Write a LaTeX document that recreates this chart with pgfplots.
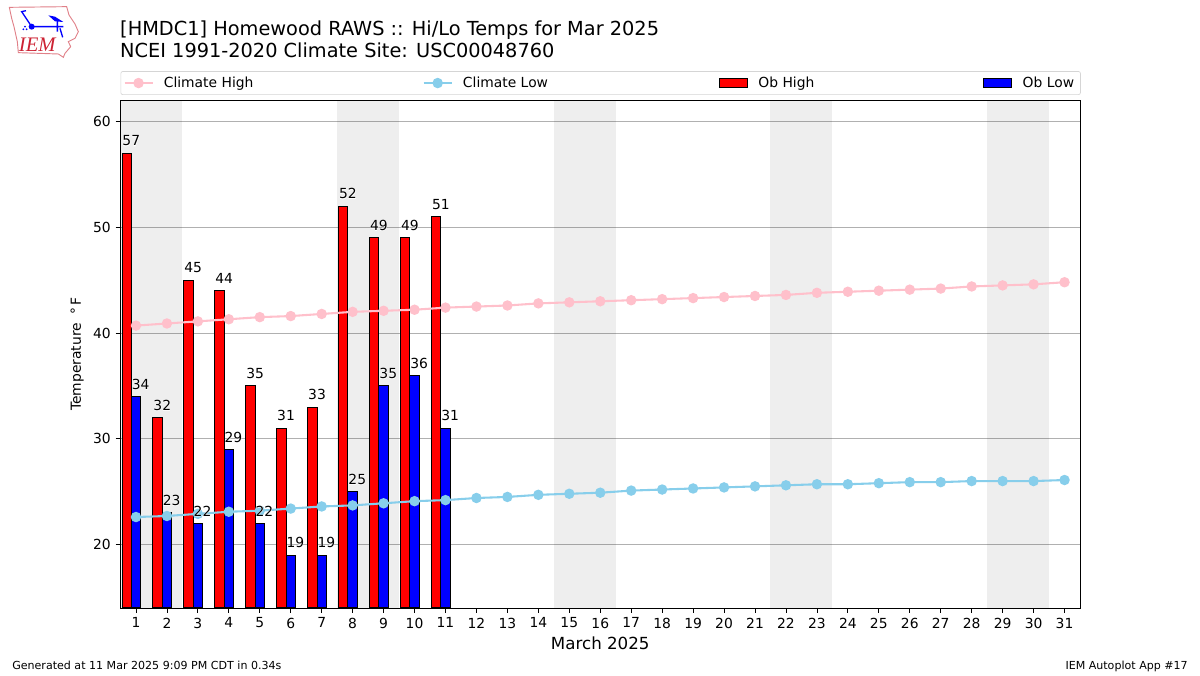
\documentclass[border=0pt]{standalone}
\usepackage{pgfplots}
\usepackage{fontspec}
\pgfplotsset{compat=1.18}
\setmainfont{DejaVu Sans}
\newfontface\halofont[FakeBold=4]{DejaVu Sans}
\newfontfamily\logofont{Liberation Serif}
\definecolor{cpink}{HTML}{FFC0CB}
\definecolor{cblue}{HTML}{87CEEB}
\definecolor{gridc}{HTML}{B0B0B0}
\definecolor{legc}{HTML}{D5D5D5}
\definecolor{logored}{HTML}{CC2233}
\definecolor{logopink}{HTML}{E08088}
\pgfplotstableread{
d  high low
1  57 34
2  32 23
3  45 22
4  44 29
5  35 22
6  31 19
7  33 19
8  52 25
9  49 35
10 49 36
11 51 31
}\obs
\pgfplotstableread{
d  chigh clow
1  40.7 22.6
2  40.9 22.7
3  41.1 22.9
4  41.3 23.1
5  41.5 23.2
6  41.6 23.4
7  41.8 23.6
8  42.0 23.7
9  42.1 23.9
10 42.2 24.1
11 42.4 24.2
12 42.5 24.4
13 42.6 24.5
14 42.8 24.7
15 42.9 24.8
16 43.0 24.9
17 43.1 25.1
18 43.2 25.2
19 43.3 25.3
20 43.4 25.4
21 43.5 25.5
22 43.6 25.6
23 43.8 25.7
24 43.9 25.7
25 44.0 25.8
26 44.1 25.9
27 44.2 25.9
28 44.4 26.0
29 44.5 26.0
30 44.6 26.0
31 44.8 26.1
}\clim
\newcommand{\lab}{\fontsize{10.4}{12}\selectfont}
\newcommand{\legtext}[2]{\makebox[#1][l]{\hspace*{5.7pt}#2}}
\pgfplotsset{
  vallabel/.style={draw=none,mark=none,forget plot,point meta=y,
    nodes near coords={\rlap{\color{white}\halofont\pgfmathprintnumber[assume math mode=true]{\pgfplotspointmeta}}\pgfmathprintnumber[assume math mode=true]{\pgfplotspointmeta}},
    nodes near coords align={anchor=base},
    every node near coord/.append style={font=\lab,text=black,inner sep=0pt,anchor=base,xshift=#1,yshift=5.4pt}},
  band/.style={fill=black,fill opacity=0.067,draw=none,forget plot},
  lineimg/.style={legend image code/.code={
    \draw[##1,line width=1.56pt] (0,0)--(21pt,0);
    \fill[##1] (10.5pt,0) circle (3.1pt);}},
  barimg/.style={legend image code/.code={
    \draw[##1,sharp corners,line width=0.75pt] (0,-3.4pt) rectangle (21pt,3.4pt);}},
}
\begin{document}
\begin{tikzpicture}
\path[use as bounding box] (0,0) rectangle (900pt,506.25pt);
% logo
\begin{scope}[shift={(0,506.25pt)},x=0.25pt,y=-0.25pt]
\draw[logopink,line width=0.7pt] (28,22)--(200,20)--(207,45)--(225,72)--(235,95)--(225,115)--(205,125)--(212,140)--(195,160)--(190,172)--(175,162)--(55,158)--(52,125)--(42,80)--(35,55)--cycle;
\draw[blue,line width=1pt] (95,80)--(190,80) (95,80)--(65,35)--(78,32) (172,60)--(172,95) (180,85)--(188,112);
\fill[blue] (95,80) circle (9) (145,46)--(165,50)--(190,66)--(165,64)--cycle;
\fill[blue] (75,80) circle (3) (70,88) circle (3) (80,88) circle (3);
\node[logored,inner sep=0pt,anchor=base] at (112,154) {\logofont\itshape\fontsize{15.5}{15.5}\selectfont IEM};
\end{scope}
\begin{axis}[
  at={(90.375pt,50.25pt)},anchor=south west,
  scale only axis,width=719.625pt,height=381pt,
  xmin=0.5,xmax=31.5,ymin=14,ymax=62.03,
  xtick={1,...,31},ytick={20,30,40,50,60},
  xtick pos=bottom,ytick pos=left,tick align=outside,
  major tick length=3.65pt,
  every tick/.style={black,line width=0.6pt},
  axis line style={line width=0.6pt},
  ymajorgrids,
  major grid style={gridc,line width=0.75pt},
  /pgf/number format/assume math mode=true,
  tick label style={font=\lab},
  xticklabel style={yshift=-0.2pt},
  yticklabel style={xshift=-0.2pt},
  xlabel={March 2025},
  xlabel style={font=\fontsize{12.5}{14}\selectfont,yshift=0.5pt},
  ylabel={Temperature\hspace{6pt}°\hspace{2pt}F},
  ylabel style={font=\lab,yshift=0pt},
  title={[HMDC1] Homewood RAWS :: Hi/Lo Temps for Mar 2025\\NCEI 1991-2020 Climate Site: USC00048760},
  title style={at={(0,1)},anchor=south west,align=left,inner sep=0pt,xshift=-0.4pt,yshift=25.2pt,
    font=\fontsize{14.5}{16.6}\selectfont},
  legend columns=4,
  legend cell align=left,
  legend style={at={(0,1)},anchor=south west,yshift=3.75pt,
    draw=legc,rounded corners=1.5pt,line width=0.5pt,font=\lab,
    inner xsep=2pt,inner ysep=2pt,
    nodes={inner ysep=2pt}},
]
\addplot[band] coordinates {(0.5,14) (2.5,14) (2.5,62.03) (0.5,62.03)} --cycle;
\addplot[band] coordinates {(7.5,14) (9.5,14) (9.5,62.03) (7.5,62.03)} --cycle;
\addplot[band] coordinates {(14.5,14) (16.5,14) (16.5,62.03) (14.5,62.03)} --cycle;
\addplot[band] coordinates {(21.5,14) (23.5,14) (23.5,62.03) (21.5,62.03)} --cycle;
\addplot[band] coordinates {(28.5,14) (30.5,14) (30.5,62.03) (28.5,62.03)} --cycle;
\addplot[ybar,bar width=0.3,bar shift=-0.3,fill=red,draw=black,line width=0.75pt,forget plot] table[x=d,y=high] {\obs};
\addplot[ybar,bar width=0.3,bar shift=0,fill=blue,draw=black,line width=0.75pt,forget plot] table[x=d,y=low] {\obs};
\addplot[cpink,line width=1.56pt,mark=*,mark size=3.1pt,mark options={draw=cpink,fill=cpink},lineimg] table[x=d,y=chigh] {\clim};
\addlegendentry{\legtext{197.8pt}{Climate High}}
\addplot[cblue,line width=1.56pt,mark=*,mark size=3.1pt,mark options={draw=cblue,fill=cblue},lineimg] table[x=d,y=clow] {\clim};
\addlegendentry{\legtext{195.8pt}{Climate Low}}
\addlegendimage{barimg,fill=red,draw=black}
\addlegendentry{\legtext{172.5pt}{Ob High}}
\addlegendimage{barimg,fill=blue,draw=black}
\addlegendentry{\legtext{45pt}{Ob Low}}
\addplot[vallabel=-3.5pt] table[x=d,y=high] {\obs};
\addplot[vallabel=3.5pt] table[x=d,y=low] {\obs};
\end{axis}
\node[anchor=base west,inner sep=0pt,font=\fontsize{8.3}{10}\selectfont] at (9pt,3.9pt) {Generated at 11 Mar 2025 9:09 PM CDT in 0.34s};
\node[anchor=base east,inner sep=0pt,font=\fontsize{8.3}{10}\selectfont] at (891pt,3.9pt) {IEM Autoplot App \#17};
\end{tikzpicture}
\end{document}
